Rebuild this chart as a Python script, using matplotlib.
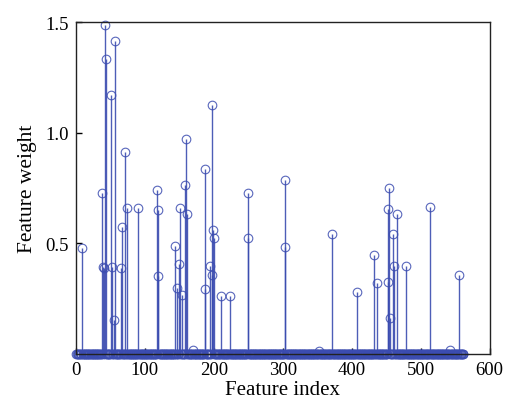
import numpy as np
import matplotlib
matplotlib.use('Agg')
import matplotlib.pyplot as plt

plt.rcParams['font.family'] = ['Liberation Serif', 'DejaVu Serif']

# Number of features (indices 1..n_features), most weights are zero
n_features = 562

# Non-zero feature indices and their weights
sel_index = [9, 38, 39, 41, 43, 44, 51, 53, 56, 57, 66, 67, 71, 75, 91,
             118, 119, 120, 144, 147, 150, 151, 154, 159, 160, 161, 170,
             187, 188, 194, 197, 198, 199, 201, 211, 224, 249, 250, 303,
             304, 352, 372, 407, 432, 437, 452, 453, 454, 455, 460, 462,
             465, 478, 513, 542, 556]
sel_weight = [0.476, 0.728, 0.391, 0.387, 1.486, 1.335, 1.172, 0.393, 0.152,
              1.416, 0.387, 0.573, 0.912, 0.660, 0.659, 0.740, 0.652, 0.353,
              0.486, 0.299, 0.406, 0.659, 0.264, 0.764, 0.970, 0.633, 0.018,
              0.837, 0.293, 0.398, 0.356, 1.127, 0.559, 0.524, 0.262, 0.262,
              0.728, 0.523, 0.482, 0.785, 0.012, 0.542, 0.277, 0.448, 0.320,
              0.323, 0.655, 0.751, 0.159, 0.542, 0.398, 0.630, 0.398, 0.666,
              0.018, 0.358]

x_ticks = [0, 100, 200, 300, 400, 500, 600]
y_ticks = [0.5, 1.0, 1.5]

blue = '#3b4cb0'

idx = np.arange(1, n_features + 1)
weights = np.zeros(n_features)
for i, w in zip(sel_index, sel_weight):
  weights[i - 1] = w

fig = plt.figure(figsize=(5.1, 4.1), dpi=100)
ax = fig.add_axes([0.1484, 0.1351, 0.8118, 0.808])

markerline, stemlines, baseline = ax.stem(idx, weights, basefmt=' ')
stemlines.set_color(blue)
stemlines.set_linewidth(1.0)
stemlines.set_alpha(0.9)
markerline.set_marker('o')
markerline.set_markersize(6.2)
markerline.set_markerfacecolor('none')
markerline.set_markeredgecolor(blue)
markerline.set_markeredgewidth(0.8)
markerline.set_alpha(0.85)
markerline.set_clip_on(False)

ax.set_xlim(0, 600)
ax.set_ylim(0, 1.5)
ax.set_xticks(x_ticks)
ax.set_yticks(y_ticks)
ax.set_yticklabels(['0.5', '1.0', '1.5'])
ax.tick_params(direction='in', length=4, width=1, labelsize=13.5,
               top=False, right=False, pad=5)
for s in ax.spines.values():
  s.set_linewidth(1.0)
  s.set_color('#222222')
ax.set_xlabel('Feature index', fontsize=15, labelpad=2)
ax.set_ylabel('Feature weight', fontsize=15.5, labelpad=6)

fig.savefig('out.png', dpi=100)
